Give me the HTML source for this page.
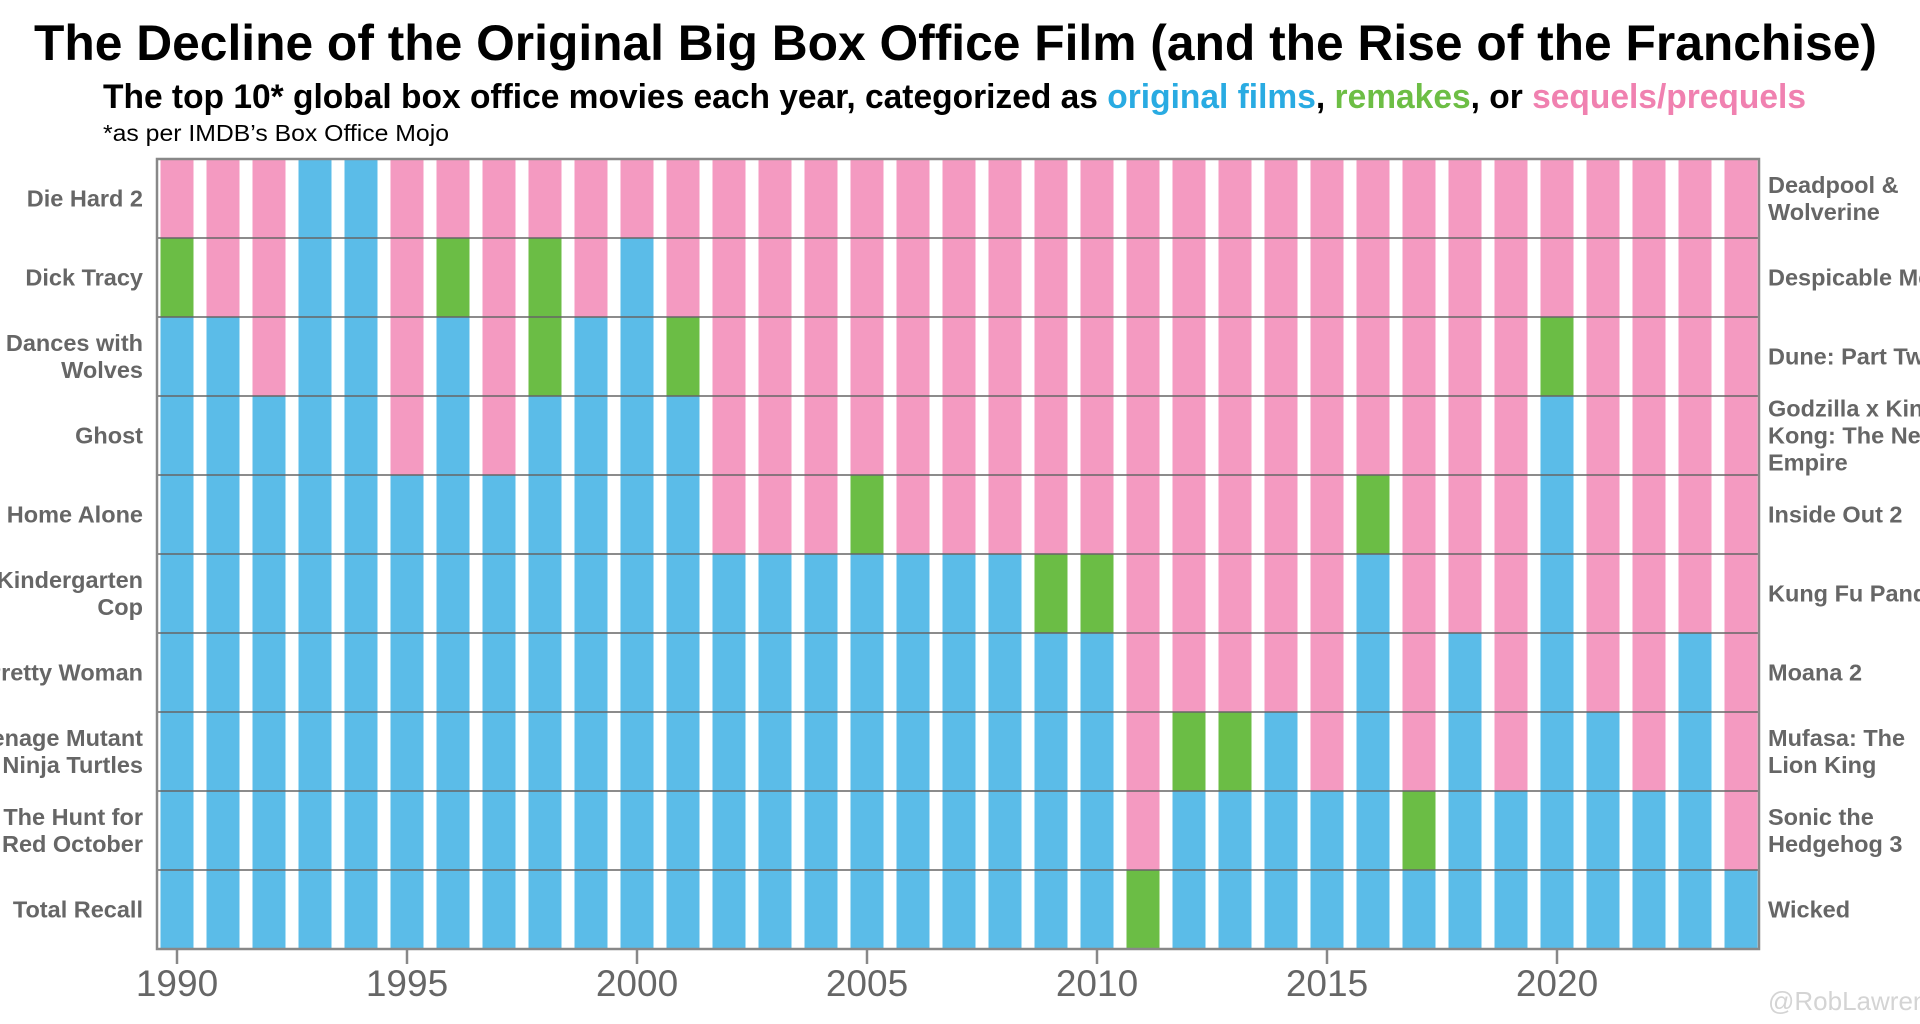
<!DOCTYPE html>
<html><head><meta charset="utf-8"><style>
html,body{margin:0;padding:0;background:#fff;width:1920px;height:1024px;overflow:hidden}
svg{display:block;font-family:"Liberation Sans",sans-serif}
</style></head><body>
<svg id="chart" width="1920" height="1024" viewBox="0 0 1920 1024">
<text x="34" y="60" font-size="50" font-weight="bold" fill="#000" textLength="1843" lengthAdjust="spacingAndGlyphs">The Decline of the Original Big Box Office Film (and the Rise of the Franchise)</text>
<text x="103" y="108" font-size="34" font-weight="bold" fill="#000" textLength="1703" lengthAdjust="spacingAndGlyphs">The top 10* global box office movies each year, categorized as <tspan fill="#29ABE2">original films</tspan>, <tspan fill="#6DBE45">remakes</tspan>, or <tspan fill="#F081B0">sequels/prequels</tspan></text>
<text x="103" y="141" font-size="23" fill="#000" textLength="346" lengthAdjust="spacingAndGlyphs">*as per IMDB’s Box Office Mojo</text>
<g id="bars"></g>
<g id="grid"></g>
<rect x="157" y="159" width="1602" height="790" fill="none" stroke="#888" stroke-width="2.5"/>
<g id="xaxis"></g>
<g id="leftlabels"></g>
<g id="rightlabels"></g>
<text x="1768" y="1010" font-size="26" fill="#d4d4d4">@RobLawrence</text>
</svg>
<script>
const years = [1990,1991,1992,1993,1994,1995,1996,1997,1998,1999,2000,2001,2002,2003,2004,2005,2006,2007,2008,2009,2010,2011,2012,2013,2014,2015,2016,2017,2018,2019,2020,2021,2022,2023,2024];
const originals = [8,8,7,10,10,6,8,6,7,8,9,7,5,5,5,5,5,5,5,4,4,0,2,2,3,2,5,1,4,2,7,3,2,4,1];
const remakes  = [1,0,0,0,0,0,1,0,2,0,0,1,0,0,0,1,0,0,0,1,1,1,1,1,0,0,1,1,0,0,1,0,0,0,0];
const sequels  = [1,2,3,0,0,4,1,4,1,2,1,2,5,5,5,4,5,5,5,5,5,9,7,7,7,8,4,8,6,8,2,7,8,6,9];
const tickYears = [1990,1995,2000,2005,2010,2015,2020];
const leftLabels = [["Die Hard 2"],["Dick Tracy"],["Dances with","Wolves"],["Ghost"],["Home Alone"],["Kindergarten","Cop"],["Pretty Woman"],["Teenage Mutant","Ninja Turtles"],["The Hunt for","Red October"],["Total Recall"]];
const rightLabels = [["Deadpool &","Wolverine"],["Despicable Me 4"],["Dune: Part Two"],["Godzilla x King","Kong: The New","Empire"],["Inside Out 2"],["Kung Fu Panda 4"],["Moana 2"],["Mufasa: The","Lion King"],["Sonic the","Hedgehog 3"],["Wicked"]];

const NS="http://www.w3.org/2000/svg";
const L=157,R=1759,T=159,B=949,N=10;
const rowH=(B-T)/N;
const x=y=>177+(y-1990)*46;
const yv=v=>B-v*rowH;
const BW=33;
function mk(tag,attrs,parent){const e=document.createElementNS(NS,tag);for(const k in attrs)e.setAttribute(k,attrs[k]);parent.appendChild(e);return e;}
const bars=document.getElementById('bars');
years.forEach((yr,i)=>{
  const segs=[[originals[i],'#5BBCE8','original'],[remakes[i],'#6BBD45','remake'],[sequels[i],'#F49AC1','sequel']];
  let base=0;
  segs.forEach(([v,c,n])=>{
    if(v>0){
      const r=mk('rect',{x:x(yr)-BW/2,y:yv(base+v),width:BW,height:v*rowH,fill:c},bars);
      
      
    }
    base+=v;
  });
});
const grid=document.getElementById('grid');
for(let k=1;k<N;k++){
  const l=mk('line',{x1:L,x2:R,y1:yv(k),y2:yv(k),stroke:'#666','stroke-opacity':'0.75','stroke-width':2},grid);
  
  
}
const xa=document.getElementById('xaxis');
tickYears.forEach(t=>{
  const tk=mk('line',{x1:x(t),x2:x(t),y1:B,y2:B+15,stroke:'#888','stroke-width':2.5},xa);
  
  
  const tx=mk('text',{x:x(t),y:996,'text-anchor':'middle','font-size':37,fill:'#666'},xa);
  
  
  tx.textContent=t;
});
function labels(arr,gid,xpos,anchor){
  const g=document.getElementById(gid);
  arr.forEach((lines,i)=>{
    const cy=T+rowH*(i+0.5);
    const lh=27;
    const start=cy-(lines.length-1)*lh/2+8;
    lines.forEach((s,j)=>{
      const t=mk('text',{x:xpos,y:start+j*lh,'text-anchor':anchor,'font-size':23.5,'font-weight':'bold',fill:'#666'},g);
      
      
      t.textContent=s;
    });
  });
}
labels(leftLabels,'leftlabels',143,'end');
labels(rightLabels,'rightlabels',1768,'start');
</script>
</body></html>
